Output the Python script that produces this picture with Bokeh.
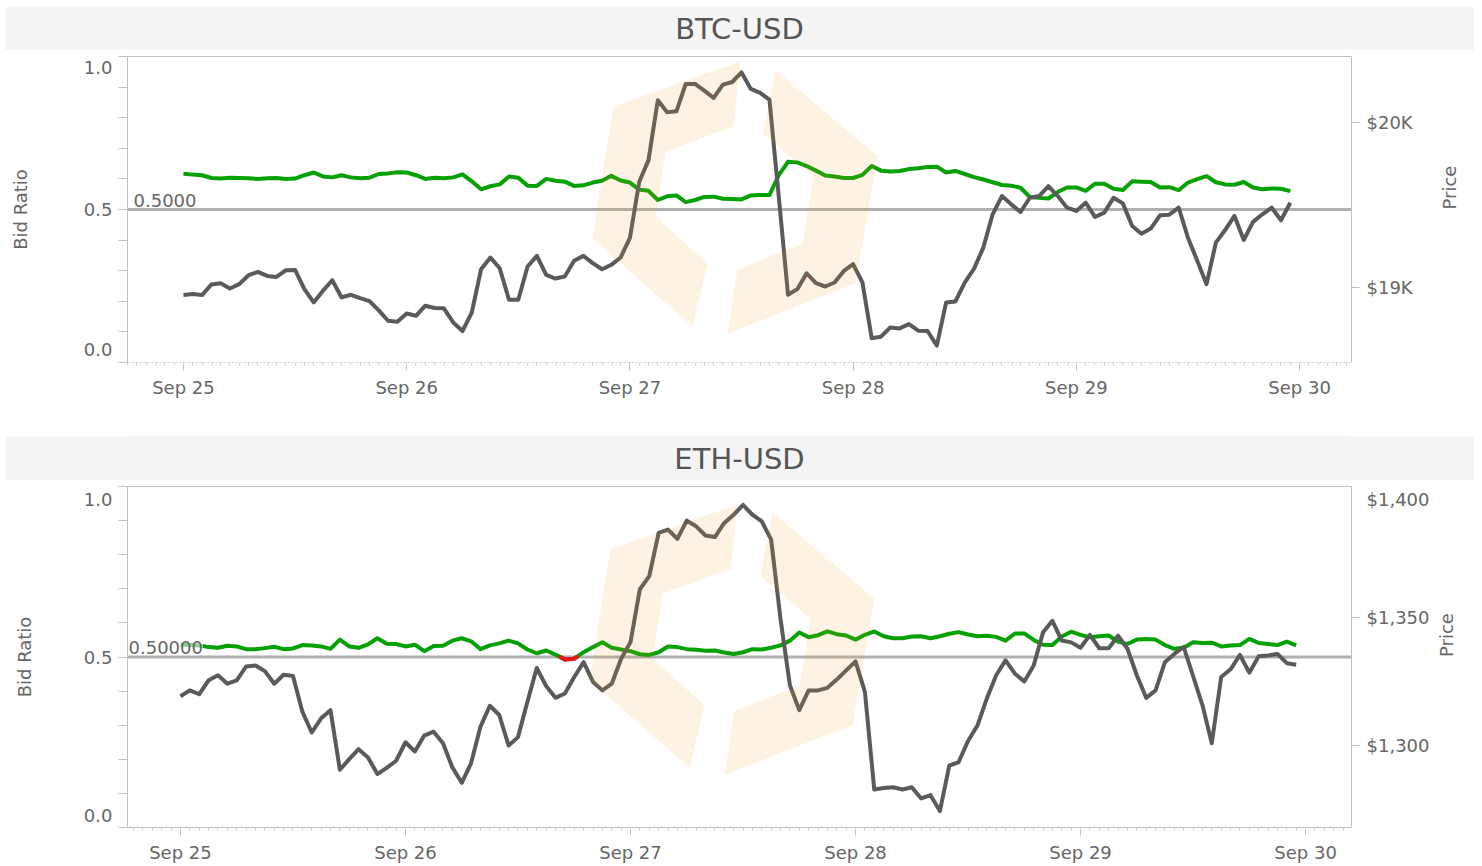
import math
import pandas as pd
from bokeh.plotting import figure
from bokeh.layouts import column
from bokeh.models import Range1d, LinearAxis, FixedTicker, DatetimeTickFormatter, Span, Label
from bokeh.embed import file_html
from bokeh.resources import INLINE

FONT = "DejaVu Sans"
TXT = "#666666"
AXC = "#c0c0c0"

# ---------------- data (hourly, starting Sep 25 00:00) ----------------
times = pd.date_range("2022-09-25 00:00", periods=120, freq="h")
day_ticks = pd.date_range("2022-09-25", "2022-09-30", freq="D")

btc_ratio = [
    0.617, 0.614, 0.612, 0.603, 0.601, 0.604, 0.603, 0.602, 0.600, 0.602,
    0.603, 0.600, 0.601, 0.612, 0.621, 0.608, 0.605, 0.612, 0.605, 0.602,
    0.604, 0.616, 0.618, 0.622, 0.621, 0.612, 0.600, 0.604, 0.602, 0.605,
    0.615, 0.592, 0.566, 0.576, 0.582, 0.608, 0.604, 0.578, 0.577, 0.600,
    0.594, 0.591, 0.577, 0.579, 0.588, 0.594, 0.610, 0.595, 0.588, 0.565,
    0.561, 0.531, 0.543, 0.546, 0.524, 0.531, 0.541, 0.542, 0.535, 0.534,
    0.533, 0.546, 0.547, 0.547, 0.612, 0.656, 0.654, 0.642, 0.627, 0.611,
    0.608, 0.603, 0.603, 0.613, 0.642, 0.627, 0.624, 0.626, 0.632, 0.635,
    0.639, 0.640, 0.621, 0.626, 0.616, 0.606, 0.598, 0.589, 0.580, 0.578,
    0.571, 0.541, 0.538, 0.536, 0.557, 0.572, 0.572, 0.561, 0.584, 0.584,
    0.568, 0.564, 0.592, 0.591, 0.590, 0.572, 0.573, 0.563, 0.588, 0.599,
    0.609, 0.589, 0.582, 0.581, 0.590, 0.572, 0.566, 0.569, 0.568, 0.560,
]
btc_price = [
    18956, 18962, 18956, 19020, 19028, 18996, 19022, 19076, 19096, 19072,
    19066, 19106, 19108, 18992, 18912, 18982, 19046, 18942, 18958, 18938,
    18920, 18864, 18801, 18795, 18845, 18831, 18892, 18878, 18876, 18791,
    18739, 18851, 19112, 19183, 19118, 18928, 18928, 19129, 19193, 19078,
    19056, 19068, 19163, 19193, 19149, 19112, 19139, 19183, 19301, 19639,
    19771, 20133, 20060, 20066, 20231, 20231, 20191, 20147, 20227, 20243,
    20301, 20201, 20177, 20137, 19554, 18958, 18992, 19088, 19028, 19008,
    19032, 19102, 19143, 19032, 18695, 18705, 18761, 18755, 18781, 18741,
    18739, 18651, 18912, 18918, 19032, 19116, 19243, 19444, 19554, 19504,
    19458, 19544, 19554, 19614, 19554, 19484, 19464, 19514, 19428, 19454,
    19544, 19510, 19373, 19327, 19358, 19438, 19442, 19484, 19303, 19163,
    19022, 19273, 19349, 19434, 19289, 19398, 19444, 19484, 19408, 19514,
]
eth_ratio = [
    0.536, 0.535, 0.534, 0.529, 0.527, 0.533, 0.531, 0.523, 0.523, 0.526,
    0.530, 0.523, 0.525, 0.535, 0.534, 0.531, 0.524, 0.551, 0.531, 0.527,
    0.537, 0.555, 0.539, 0.538, 0.531, 0.536, 0.517, 0.532, 0.533, 0.548,
    0.555, 0.546, 0.523, 0.534, 0.540, 0.548, 0.540, 0.522, 0.511, 0.519,
    0.507, 0.493, 0.495, 0.514, 0.529, 0.543, 0.527, 0.522, 0.517, 0.508,
    0.506, 0.514, 0.531, 0.529, 0.523, 0.521, 0.518, 0.519, 0.513, 0.509,
    0.514, 0.523, 0.522, 0.527, 0.534, 0.548, 0.572, 0.558, 0.564, 0.575,
    0.567, 0.563, 0.551, 0.565, 0.575, 0.561, 0.555, 0.555, 0.560, 0.561,
    0.555, 0.561, 0.568, 0.573, 0.566, 0.561, 0.562, 0.559, 0.548, 0.569,
    0.569, 0.550, 0.536, 0.535, 0.560, 0.574, 0.565, 0.558, 0.561, 0.563,
    0.545, 0.538, 0.551, 0.553, 0.551, 0.535, 0.524, 0.527, 0.543, 0.541,
    0.542, 0.531, 0.534, 0.535, 0.553, 0.541, 0.538, 0.535, 0.545, 0.534,
]
eth_price = [
    1319.3, 1321.6, 1320.1, 1325.5, 1327.5, 1324.2, 1325.5, 1330.9, 1331.3, 1329.1,
    1324.2, 1327.7, 1327.2, 1313.3, 1305.2, 1310.7, 1313.9, 1290.7, 1294.8, 1298.7,
    1295.5, 1289.0, 1291.4, 1294.2, 1301.4, 1297.8, 1304.0, 1305.5, 1301.0, 1291.6,
    1285.6, 1293.3, 1307.5, 1315.6, 1312.0, 1300.1, 1303.4, 1317.1, 1330.3, 1323.3,
    1318.7, 1320.4, 1326.8, 1332.6, 1324.9, 1321.6, 1324.2, 1333.9, 1340.4, 1361.0,
    1366.1, 1382.9, 1384.2, 1380.6, 1387.7, 1385.5, 1381.9, 1381.3, 1386.8, 1390.0,
    1393.8, 1390.0, 1387.4, 1380.3, 1349.4, 1323.6, 1313.9, 1321.6, 1321.6, 1322.6,
    1325.8, 1329.4, 1332.9, 1321.0, 1283.0, 1283.6, 1283.9, 1283.0, 1283.9, 1279.5,
    1280.8, 1274.6, 1292.3, 1293.7, 1301.9, 1307.9, 1318.4, 1327.5, 1333.3, 1328.1,
    1325.1, 1331.3, 1344.2, 1348.7, 1341.0, 1340.3, 1338.2, 1343.2, 1338.0, 1338.0,
    1342.9, 1337.8, 1327.5, 1318.7, 1321.6, 1332.6, 1335.8, 1338.5, 1327.2, 1315.9,
    1301.0, 1326.8, 1329.8, 1335.4, 1328.5, 1334.9, 1335.2, 1335.8, 1332.2, 1331.6,
]

THRESHOLD = 0.5

# watermark outline (pixel offsets from logo centre)
LOGO_L = [(-122, -91), (5, -136), (-2, -71), (-70, -46), (-80, 19), (-28, 66), (-43, 129), (-143, 41)]
LOGO_R = [(40, -128), (142, -41), (120, 86), (-8, 136), (2, 72), (67, 46), (78, -21), (28, -64)]

W = 1469


def ms(t):
    return pd.Timestamp(t).value / 1e6


def below_segments(xv, yv, thr):
    sx, sy = [], []
    for i in range(len(yv) - 1):
        x0, y0, x1, y1 = xv[i], yv[i], xv[i + 1], yv[i + 1]
        if y0 >= thr and y1 >= thr:
            continue
        if y0 < thr and y1 < thr:
            a, b = (x0, y0), (x1, y1)
        elif y0 < thr:
            t = (thr - y0) / (y1 - y0)
            a, b = (x0, y0), (x0 + t * (x1 - x0), thr)
        else:
            t = (thr - y0) / (y1 - y0)
            a, b = (x0 + t * (x1 - x0), thr), (x1, y1)
        sx.append([a[0], b[0]])
        sy.append([a[1], b[1]])
    return sx, sy


def band(title, h):
    b = figure(width=W, height=h, x_range=Range1d(0, 1), y_range=Range1d(0, 1),
               toolbar_location=None, output_backend="svg", min_border=0,
               x_axis_location=None, y_axis_location=None)
    b.grid.visible = False
    b.outline_line_color = None
    b.background_fill_color = "#f4f4f4"
    b.border_fill_color = "#f4f4f4"
    b.add_layout(Label(x=0.5, y=0.5, text=title, text_align="center", text_baseline="middle",
                       text_font=FONT, text_font_size="29px", text_color="#555555"))
    return b


def panel(ratio, price, x_start, x_end, price_range, price_ticks, price_labels, price_tick_marks,
          y_lab_ticks, thr_text, thr_xoff, height, mb, frame, logo_c, axis_dotted, lab_standoff,
          price_standoff):
    p = figure(width=W, height=height, x_axis_type="datetime",
               x_range=Range1d(ms(x_start), ms(x_end)), y_range=Range1d(0, 1),
               toolbar_location=None, output_backend="svg",
               min_border_left=mb[0], min_border_right=mb[1], min_border_top=mb[2], min_border_bottom=mb[3])
    p.grid.visible = False
    p.outline_line_color = None
    p.background_fill_color = "white"
    p.border_fill_color = "white"
    p.extra_y_ranges = {"price": Range1d(*price_range)}

    # threshold line
    p.add_layout(Span(location=THRESHOLD, dimension="width", line_color="#b0b0b0",
                      line_width=3, level="underlay"))

    xv = list(times.asi8 / 1e6)
    p.line(xv, ratio, line_color="#04a004", line_width=4, line_join="round")
    rx, ry = below_segments(xv, ratio, THRESHOLD)
    if rx:
        p.multi_line(rx, ry, line_color="#e8141c", line_width=4, line_cap="round")
    p.line(xv, price, y_range_name="price", line_color="#5a5a5a", line_width=4, line_join="round")

    # watermark
    fl, ft, fw, fh = frame
    x0, x1 = ms(x_start), ms(x_end)
    cx, cy = logo_c
    xs, ys = [], []
    for shape in (LOGO_L, LOGO_R):
        xs.append([x0 + (cx + dx - fl) / fw * (x1 - x0) for dx, dy in shape])
        ys.append([1 - (cy + dy - ft) / fh for dx, dy in shape])
    p.patches(xs, ys, fill_color="#f79a2a", fill_alpha=0.13, line_color=None, level="overlay")

    # threshold label
    p.add_layout(Label(x=x0, y=THRESHOLD, text=thr_text, x_offset=thr_xoff, y_offset=3,
                       text_baseline="bottom", text_font=FONT, text_font_size="18px",
                       text_color=TXT, background_fill_color="white", background_fill_alpha=0.55))

    # x axis
    xa = p.xaxis[0]
    xa.ticker = FixedTicker(ticks=[ms(t) for t in day_ticks],
                            minor_ticks=[ms(t) for t in pd.date_range(x_start, x_end, freq="h").ceil("h")])
    fmt = "%b %d"
    xa.formatter = DatetimeTickFormatter(days=fmt, hours=fmt, hourmin=fmt, months=fmt, minutes=fmt)
    xa.major_label_text_font = FONT
    xa.major_label_text_font_size = "18px"
    xa.major_label_text_color = TXT
    xa.major_label_standoff = 6
    xa.major_tick_out = 8
    xa.major_tick_in = 0
    xa.major_tick_line_color = AXC
    xa.minor_tick_out = 3
    xa.minor_tick_in = 0
    xa.minor_tick_line_color = "#d0d0d0"
    xa.axis_line_color = AXC if not axis_dotted else "#c8c8c8"
    if axis_dotted:
        xa.axis_line_dash = "2 2"

    # left axis
    ya = p.yaxis[0]
    ya.ticker = FixedTicker(ticks=y_lab_ticks, minor_ticks=[i / 10 for i in range(11)])
    ya.major_label_overrides = {y_lab_ticks[0]: "0.0", y_lab_ticks[1]: "0.5", y_lab_ticks[2]: "1.0"}
    ya.major_tick_line_color = None
    ya.minor_tick_out = 9
    ya.minor_tick_in = 0
    ya.minor_tick_line_color = AXC
    ya.axis_line_color = AXC
    ya.major_label_text_font = FONT
    ya.major_label_text_font_size = "18px"
    ya.major_label_text_color = TXT
    ya.major_label_standoff = 6
    ya.axis_label = "Bid Ratio"
    ya.axis_label_text_font = FONT
    ya.axis_label_text_font_size = "18px"
    ya.axis_label_text_font_style = "normal"
    ya.axis_label_text_color = TXT
    ya.axis_label_standoff = lab_standoff

    # right axis (price)
    ra = LinearAxis(y_range_name="price",
                    ticker=FixedTicker(ticks=price_ticks, minor_ticks=price_tick_marks))
    ra.major_label_overrides = dict(zip(price_ticks, price_labels))
    ra.major_tick_line_color = None
    ra.minor_tick_out = 8
    ra.minor_tick_in = 0
    ra.minor_tick_line_color = AXC
    ra.axis_line_color = AXC
    ra.major_label_text_font = FONT
    ra.major_label_text_font_size = "18px"
    ra.major_label_text_color = TXT
    ra.major_label_standoff = 7
    ra.axis_label = "Price"
    ra.axis_label_text_font = FONT
    ra.axis_label_text_font_size = "18px"
    ra.axis_label_text_font_style = "normal"
    ra.axis_label_text_color = TXT
    ra.axis_label_standoff = price_standoff
    try:
        ra.axis_label_orientation = math.pi / 2
    except Exception:
        pass
    p.add_layout(ra, "right")

    # top border line
    ta = LinearAxis(ticker=FixedTicker(ticks=[]), major_tick_out=0, major_tick_in=0,
                    major_label_text_font_size="0px", major_label_standoff=0,
                    minor_tick_out=0, minor_tick_in=0, axis_line_color=AXC)
    p.add_layout(ta, "above")
    return p


# page origin offset (5, 6); both frames span x 127..1351
b1 = band("BTC-USD", 44)
p1 = panel(btc_ratio, btc_price, "2022-09-24 17:59", "2022-09-30 05:35",
           (18549, 20397), [19000, 20000], ["$19K", "$20K"], [19000, 20000],
           [0.043, 0.5, 0.964], "0.5000", 6, 386, (122, 123, 6, 74),
           (127, 56, 1224, 306), (735, 197), True, 50, 34)
b2 = band("ETH-USD", 44)
p2 = panel(eth_ratio, eth_price, "2022-09-24 18:21", "2022-09-30 04:54",
           (1268.2, 1401), [1300, 1350, 1396], ["$1,300", "$1,350", "$1,400"], [1300, 1350],
           [0.035, 0.5, 0.962], "0.50000", 1, 385, (122, 123, 6, 36),
           (127, 486, 1224, 343), (732, 640), False, 46, 14)

layout = column(b1, p1, b2, p2, margin=(6, 0, 0, 5))
open("out.html", "w").write(file_html(layout, INLINE))
